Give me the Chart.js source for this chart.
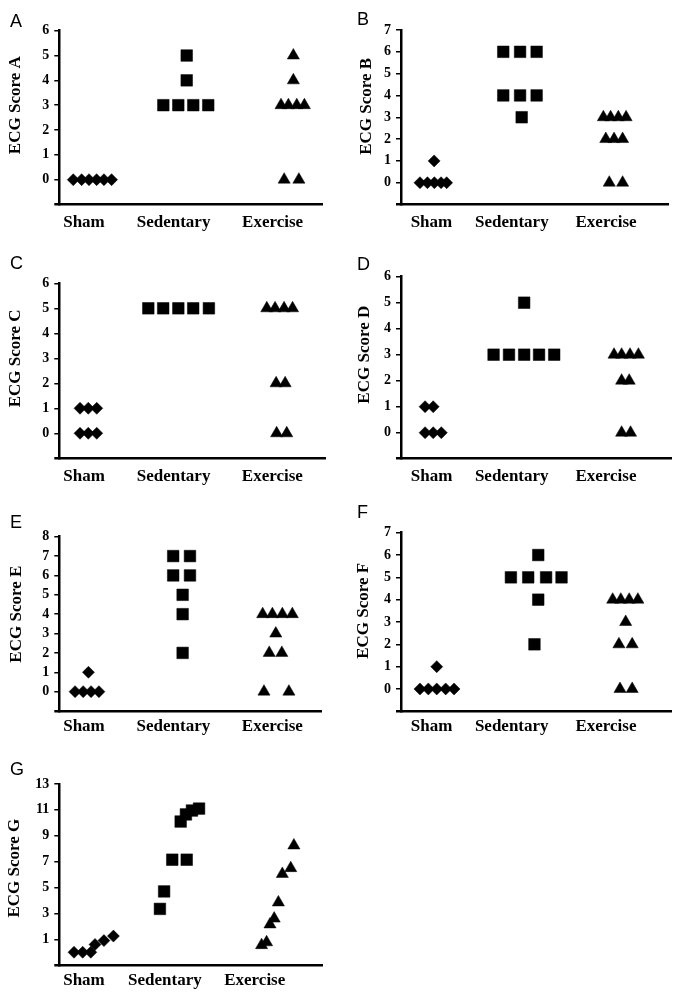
<!DOCTYPE html>
<html>
<head>
<meta charset="utf-8">
<script src="https://cdn.jsdelivr.net/npm/chart.js@4.4.1/dist/chart.umd.min.js"></script>
<style>
  html, body { margin: 0; padding: 0; background: #fff; }
  body { width: 681px; height: 997px; position: relative; overflow: hidden; }
  canvas { position: absolute; }
  .letter { position: absolute; font-family: "Liberation Sans", Arial, sans-serif; font-size: 18px; line-height: 18px; color: #000; }
</style>
</head>
<body>
<script>
// ---- Data (x = horizontal position along each panel's 0–10 axis, y = ECG score) ----
const groups = ['Sham', 'Sedentary', 'Exercise'];

const A_sham = [[0.53,0],[0.85,0],[1.13,0],[1.42,0],[1.70,0],[1.99,0]];
const A_sed  = [[4.85,5],[4.85,4],[3.96,3],[4.53,3],[5.10,3],[5.67,3]];
const A_ex   = [[8.91,5],[8.91,4],[8.44,3],[8.72,3],[9.04,3],[9.33,3],[8.56,0],[9.12,0]];

const B_sham = [[1.24,1],[0.71,0],[0.99,0],[1.25,0],[1.50,0],[1.71,0]];
const B_sed  = [[3.83,6],[4.46,6],[5.08,6],[3.83,4],[4.46,4],[5.08,4],[4.52,3]];
const B_ex   = [[7.58,3],[7.85,3],[8.14,3],[8.43,3],[7.67,2],[7.98,2],[8.30,2],[7.80,0],[8.30,0]];

const C_sham = [[0.78,1],[1.09,1],[1.41,1],[0.78,0],[1.09,0],[1.41,0]];
const C_sed  = [[3.35,5],[3.91,5],[4.48,5],[5.04,5],[5.63,5]];
const C_ex   = [[7.81,5],[8.12,5],[8.46,5],[8.78,5],[8.16,2],[8.50,2],[8.18,0],[8.56,0]];

const D_sham = [[0.89,1],[1.19,1],[0.89,0],[1.19,0],[1.49,0]];
const D_sed  = [[4.55,5],[3.42,3],[3.99,3],[4.55,3],[5.10,3],[5.66,3]];
const D_ex   = [[7.87,3],[8.15,3],[8.46,3],[8.77,3],[8.15,2],[8.43,2],[8.15,0],[8.48,0]];

const E_sham = [[1.11,1],[0.60,0],[0.91,0],[1.21,0],[1.51,0]];
const E_sed  = [[4.34,7],[4.98,7],[4.34,6],[4.98,6],[4.70,5],[4.70,4],[4.70,2]];
const E_ex   = [[7.75,4],[8.12,4],[8.50,4],[8.88,4],[8.25,3],[8.00,2],[8.48,2],[7.80,0],[8.75,0]];

const F_sham = [[1.32,1],[0.70,0],[1.01,0],[1.32,0],[1.65,0],[1.96,0]];
const F_sed  = [[5.07,6],[4.06,5],[4.70,5],[5.36,5],[5.93,5],[5.07,4],[4.93,2]];
const F_ex   = [[7.82,4],[8.12,4],[8.43,4],[8.75,4],[8.30,3],[8.05,2],[8.54,2],[8.09,0],[8.54,0]];

const G_sham = [[0.56,0],[0.89,0],[1.20,0],[1.36,0.6],[1.70,0.9],[2.06,1.25]];
const G_sed  = [[3.83,3.35],[3.99,4.7],[4.30,7.15],[4.85,7.15],[4.62,10.1],[4.82,10.65],[5.05,10.95],[5.32,11.1]];
const G_ex   = [[7.70,0.55],[7.89,0.77],[8.02,2.15],[8.18,2.6],[8.34,3.85],[8.49,6.05],[8.81,6.5],[8.93,8.25]];

const yTitles = ['ECG Score A','ECG Score B','ECG Score C','ECG Score D','ECG Score E','ECG Score F','ECG Score G'];
const panelLetters = ['A','B','C','D','E','F','G'];
const yMaxes = [6, 7, 6, 6, 8, 7, 13];
const ySteps = [1, 1, 1, 1, 1, 1, 2];

// ---- Layout (canvas box and plot box in page pixels) ----
const layouts = [
  {canvas:[0,0,340,245],   plot:[59.3,30.7,322,204.5],   titleX:15.7, letter:[10,12],  labelPos:[0.94,4.35,8.12], labelPad:8, series:[A_sham,A_sed,A_ex]},
  {canvas:[340,0,341,245], plot:[401,30,668,204.5],      titleX:26.7, letter:[357,10], labelPos:[1.14,4.15,7.68], labelPad:8, series:[B_sham,B_sed,B_ex]},
  {canvas:[0,245,340,245], plot:[59.3,283.3,325,458.3],  titleX:15.8, letter:[10,254], labelPos:[0.93,4.30,8.02], labelPad:8, series:[C_sham,C_sed,C_ex]},
  {canvas:[340,245,341,245], plot:[401,276.7,671.7,458.7], titleX:25, letter:[357,255], labelPos:[1.13,4.09,7.57], labelPad:8, series:[D_sham,D_sed,D_ex]},
  {canvas:[0,490,340,250], plot:[59.3,536.7,321.7,711],  titleX:16.3, letter:[10,513], labelPos:[0.94,4.35,8.12], labelPad:5, series:[E_sham,E_sed,E_ex]},
  {canvas:[340,490,341,250], plot:[401,532.7,671.7,711.3], titleX:24, letter:[357,503], labelPos:[1.13,4.09,7.57], labelPad:5, series:[F_sham,F_sed,F_ex]},
  {canvas:[0,740,340,257], plot:[59.3,784,322,965.2],    titleX:15,   letter:[10,760], labelPos:[0.94,4.02,7.44], labelPad:5, series:[G_sham,G_sed,G_ex]}
];

const markerStyles = [
  {pointStyle:'rectRot', radius:6},
  {pointStyle:'rect', radius:8.2},
  {pointStyle:'triangle', radius:7}
];

const serif = '"Liberation Serif", "Times New Roman", serif';

const yTitlePlugin = {
  id: 'yTitle',
  afterDraw(chart, args, opts) {
    const ys = chart.scales.y;
    const top = ys.getPixelForValue(opts.max);
    const bot = ys.getPixelForValue(0);
    const ctx = chart.ctx;
    ctx.save();
    ctx.translate(opts.x, (top + bot) / 2);
    ctx.rotate(-Math.PI / 2);
    ctx.textAlign = 'center';
    ctx.textBaseline = 'middle';
    ctx.fillStyle = '#000';
    ctx.font = 'bold 17px ' + serif;
    ctx.fillText(opts.text, 0, 0);
    ctx.restore();
  }
};

layouts.forEach((L, i) => {
  const [cx, cy, cw, ch] = L.canvas;
  const [pl, pt, pr, pb] = L.plot;
  const cv = document.createElement('canvas');
  cv.width = cw; cv.height = ch;
  cv.style.left = cx + 'px'; cv.style.top = cy + 'px';
  cv.style.width = cw + 'px'; cv.style.height = ch + 'px';
  document.body.appendChild(cv);

  const lt = document.createElement('div');
  lt.className = 'letter';
  lt.textContent = panelLetters[i];
  lt.style.left = L.letter[0] + 'px';
  lt.style.top = L.letter[1] + 'px';
  document.body.appendChild(lt);

  const yW = pl - cx;
  const xH = (cy + ch) - pb;

  new Chart(cv, {
    type: 'scatter',
    data: {
      datasets: L.series.map((pts, k) => ({
        label: groups[k],
        data: pts.map(([x, y]) => ({x, y})),
        pointStyle: markerStyles[k].pointStyle,
        pointRadius: markerStyles[k].radius,
        pointHoverRadius: markerStyles[k].radius,
        pointBackgroundColor: '#000',
        pointBorderColor: '#000',
        pointBorderWidth: 0.5,
        clip: false
      }))
    },
    options: {
      responsive: false,
      animation: false,
      events: [],
      layout: { autoPadding: false, padding: { left: 0, top: pt - cy, right: (cx + cw) - pr, bottom: 0 } },
      plugins: {
        legend: { display: false },
        tooltip: { enabled: false },
        yTitle: { text: yTitles[i], max: yMaxes[i], x: L.titleX }
      },
      scales: {
        x: {
          type: 'linear', min: 0, max: 10,
          afterBuildTicks: s => { s.ticks = L.labelPos.map(v => ({value: v})); },
          afterFit: s => { s.height = xH; },
          grid: { display: false, drawTicks: false },
          border: { display: true, color: '#000', width: 2.5 },
          ticks: {
            autoSkip: false, maxRotation: 0, minRotation: 0,
            padding: L.labelPad, color: '#000',
            font: { family: serif, size: 17, weight: 'bold' },
            callback: (v, idx) => groups[idx]
          }
        },
        y: {
          type: 'linear', min: -1, max: yMaxes[i],
          afterFit: s => { s.width = yW; },
          grid: {
            drawOnChartArea: false, drawTicks: true, tickLength: 5,
            color: '#000',
            lineWidth: c => (c.tick && c.tick.value === -1) ? 2.5 : 1.5
          },
          border: { display: true, color: '#000', width: 2.5 },
          ticks: {
            autoSkip: false,
            stepSize: ySteps[i], padding: 5, color: '#000',
            font: { family: serif, size: 14, weight: 'bold' },
            callback: v => (v < 0 ? '' : v)
          }
        }
      }
    },
    plugins: [yTitlePlugin]
  });
});
</script>
</body>
</html>
